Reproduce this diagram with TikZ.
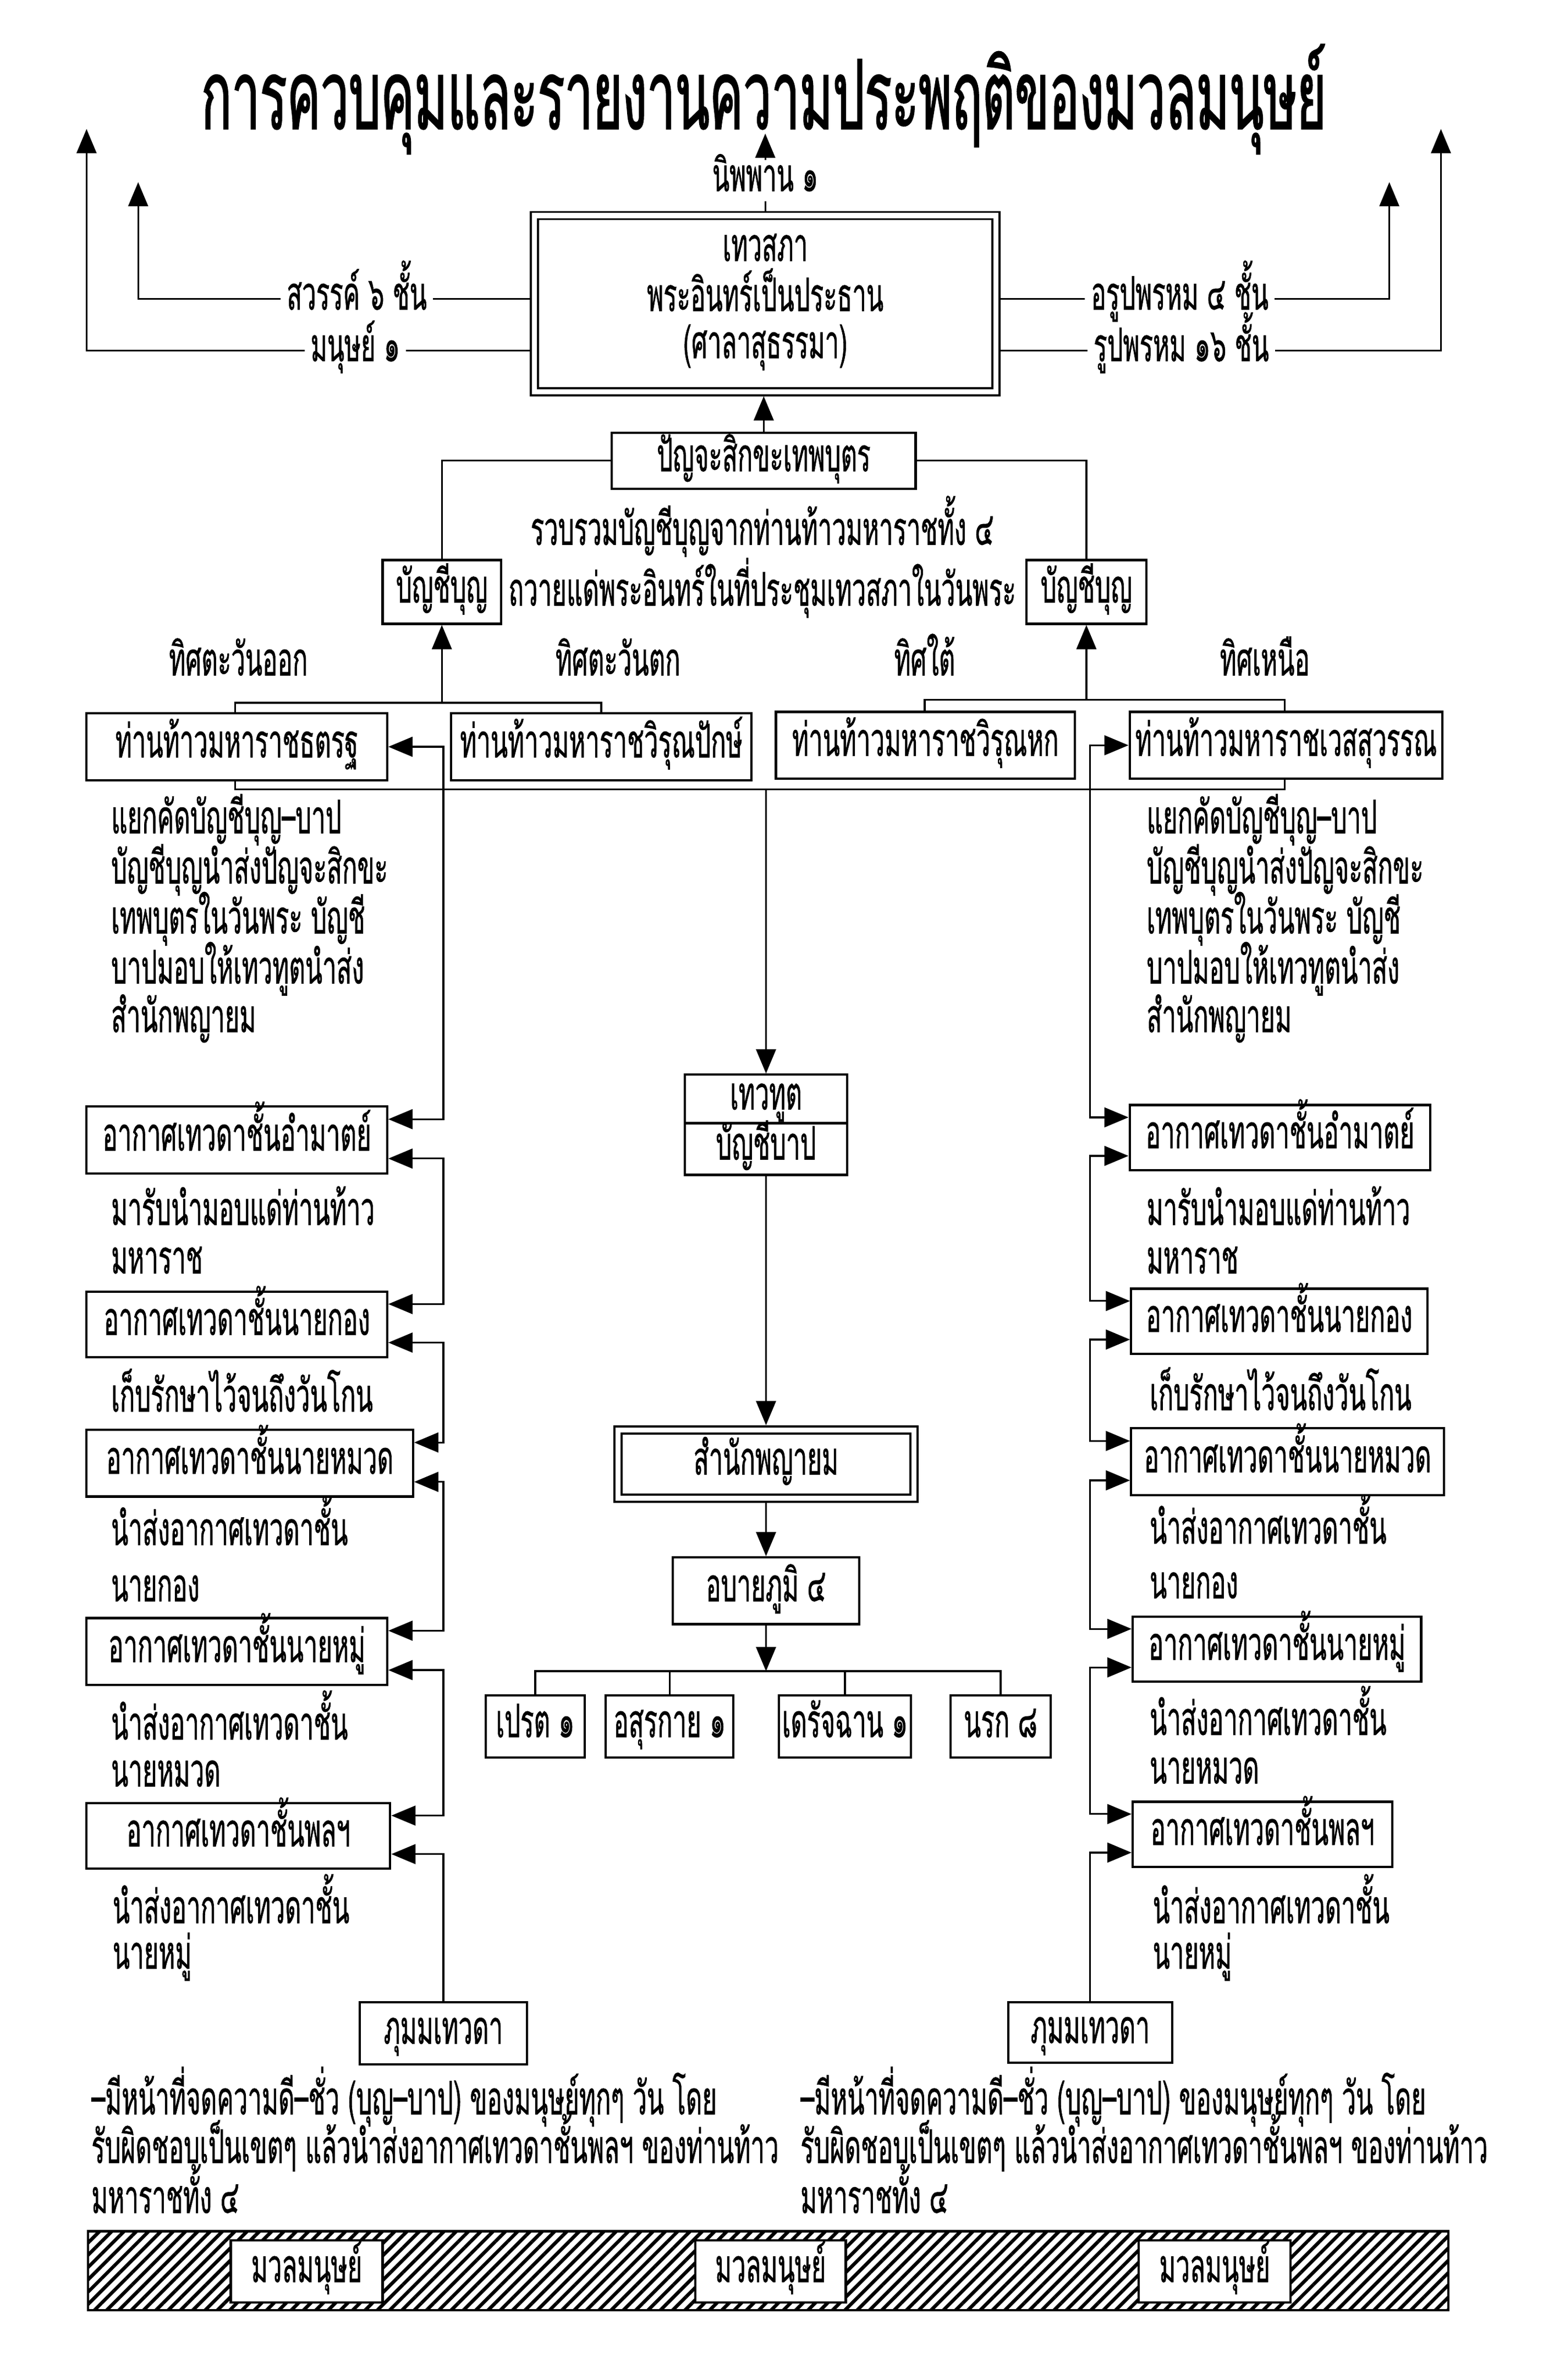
\documentclass[tikz,border=0pt]{standalone}
\usepackage{fontspec}
\newfontfamily\thai[Script=Thai,FakeStretch=0.54,FakeBold=0.7]{Loma}
\newfontfamily\thaitl[Script=Thai,FakeStretch=0.52,FakeBold=1.2]{Loma}
\usetikzlibrary{arrows.meta,calc,patterns.meta}
\tikzset{bigtri/.tip={Triangle[length=4.4mm,width=3.6mm]},
  at box/.style n args={4}{at={({(#1+#3)/2},{(#2+#4)/2})},minimum width={(#3-#1)*0.0276cm},minimum height={(#4-#2)*0.0276cm}}}
\begin{document}
\begin{tikzpicture}[x=0.0276cm,y=-0.0276cm,
  every node/.style={font=\thai\fontsize{24}{28}\selectfont},
  bx/.style={draw,line width=1.2pt,fill=white,inner sep=0pt,text height=11pt,text depth=0pt},
  dbx/.style={bx,line width=1.1pt,double,double distance=2.6pt,outer sep=2.4pt},
  lbl/.style={inner sep=3pt,text height=11pt,text depth=0pt},
  txt/.style={anchor=west,inner sep=0pt,text height=11pt,text depth=0pt},
  txc/.style={inner sep=0pt,text height=11pt,text depth=0pt},
  con/.style={line width=0.9pt},
  arr/.style={con,-bigtri},
  darr/.style={con,bigtri-bigtri}]
\fill[white] (0,0) rectangle (1016,1568);
\useasboundingbox (0,0) rectangle (1016,1568);

% title
\node[font=\thaitl\fontsize{50}{54}\selectfont,anchor=base,inner sep=0pt] (title) at (503,85) {การควบคุมและรายงานความประพฤติของมวลมนุษย์};

% top box
\node[dbx,at box={352}{142}{656}{258}] (topbox) {};
\node[txc] (tb1) at (504,165) {เทวสภา};
\node[txc] (tb2) at (504,198) {พระอินทร์เป็นประธาน};
\node[txc] (tb3) at (504,229) {(ศาลาสุธรรมา)};

% top labels and arrows
\node[lbl] (sv) at (235,197) {สวรรค์ ๖ ชั้น};
\node[lbl] (mn) at (234,231) {มนุษย์ ๑};
\node[lbl] (arp) at (777,197) {อรูปพรหม ๔ ชั้น};
\node[lbl] (rp) at (778,231) {รูปพรหม ๑๖ ชั้น};
\node[lbl,inner ysep=5pt] (nb) at (504,119) {นิพพาน ๑};
\coordinate (t1) at (91,120);
\coordinate (t2) at (57,85);
\coordinate (t3) at (915,120);
\coordinate (t4) at (949,85);
\coordinate (t5) at (504,88);
\draw[con] (topbox.west |- sv) -- (sv.east);
\draw[arr] (sv.west) -| (t1);
\draw[con] (topbox.west |- mn) -- (mn.east);
\draw[arr] (mn.west) -| (t2);
\draw[con] (topbox.east |- arp) -- (arp.west);
\draw[arr] (arp.east) -| (t3);
\draw[con] (topbox.east |- rp) -- (rp.west);
\draw[arr] (rp.east) -| (t4);
\draw[con] (topbox.north) -- (nb.south);
\draw[arr] (nb.north) -- (t5);

% panca
\node[bx,at box={403}{285}{603}{322}] (panca) {ปัญจะสิกขะเทพบุตร};
\draw[arr] (panca.north) -- (panca.north |- topbox.south);
\node[bx,at box={252}{369}{330}{411}] (bl) {บัญชีบุญ};
\node[bx,at box={676}{369}{755}{411}] (br) {บัญชีบุญ};
\draw[con] (panca.west) -| (bl.north);
\draw[con] (panca.east) -| (br.north);
\node[txc] (rv1) at (502,352) {รวบรวมบัญชีบุญจากท่านท้าวมหาราชทั้ง ๔};
\node[txc] (rv2) at (502,392) {ถวายแด่พระอินทร์ในที่ประชุมเทวสภาในวันพระ};

% directions
\node[txc] (dE) at (157,438) {ทิศตะวันออก};
\node[txc] (dW) at (407,438) {ทิศตะวันตก};
\node[txc] (dS) at (609,438) {ทิศใต้};
\node[txc] (dN) at (833,438) {ทิศเหนือ};

% four kings
\node[bx,at box={57}{470}{255}{514}] (dhat) {ท่านท้าวมหาราชธตรฐ};
\node[bx,at box={297}{470}{495}{514}] (virup) {ท่านท้าวมหาราชวิรุณปักษ์};
\node[bx,at box={511}{469}{708}{513}] (viru) {ท่านท้าวมหาราชวิรุณหก};
\node[bx,at box={744}{469}{950}{513}] (vess) {ท่านท้าวมหาราชเวสสุวรรณ};
\coordinate (bk1) at (155,463);
\coordinate (bk2) at (396,463);
\coordinate (bk3) at (609,461);
\coordinate (bk4) at (846,461);
\draw[con] (dhat.north -| bk1) |- (bk2) -- (virup.north -| bk2);
\draw[arr] (bl.south |- bk1) -- (bl.south);
\draw[con] (viru.north -| bk3) |- (bk4) -- (vess.north -| bk4);
\draw[arr] (br.south |- bk3) -- (br.south);
\coordinate (bb1) at (155,520);
\coordinate (bb2) at (846,520);
\draw[con] (dhat.south -| bb1) |- (bb2) -- (vess.south -| bb2);

% centre column
\node[bx,at box={451}{708}{558}{740}] (devA) {เทวทูต};
\node[bx,at box={451}{740}{558}{774}] (devB) {บัญชีบาป};
\draw[arr] (bb1 -| devA.north) -- (devA.north);
\node[dbx,at box={407}{942}{602}{987}] (yama) {สำนักพญายม};
\draw[arr] (devB.south) -- (yama.north);
\node[bx,at box={443}{1026}{566}{1070}] (abaya) {อบายภูมิ ๔};
\draw[arr] (yama.south) -- (abaya.north);
\coordinate (bar) at (504.5,1101);
\draw[arr] (abaya.south) -- (abaya.south |- bar);
\node[bx,at box={320}{1117}{385}{1158}] (pret) {เปรต ๑};
\node[bx,at box={399}{1117}{483}{1158}] (asura) {อสุรกาย ๑};
\node[bx,at box={513}{1117}{600}{1158}] (tirat) {เดรัจฉาน ๑};
\node[bx,at box={626}{1117}{692}{1158}] (naraka) {นรก ๘};
\draw[con] (pret.north) -- (pret.north |- bar) -- (naraka.north |- bar) -- (naraka.north);
\draw[con] (asura.north) -- (asura.north |- bar);
\draw[con] (tirat.north) -- (tirat.north |- bar);

% descriptive text
\node[txt] (la1) at (73,542) {แยกคัดบัญชีบุญ–บาป};
\node[txt] (la2) at (73,575) {บัญชีบุญนำส่งปัญจะสิกขะ};
\node[txt] (la3) at (73,608) {เทพบุตรในวันพระ บัญชี};
\node[txt] (la4) at (73,641) {บาปมอบให้เทวทูตนำส่ง};
\node[txt] (la5) at (73,673) {สำนักพญายม};
\node[txt] (ra1) at (755,542) {แยกคัดบัญชีบุญ–บาป};
\node[txt] (ra2) at (755,575) {บัญชีบุญนำส่งปัญจะสิกขะ};
\node[txt] (ra3) at (755,608) {เทพบุตรในวันพระ บัญชี};
\node[txt] (ra4) at (755,641) {บาปมอบให้เทวทูตนำส่ง};
\node[txt] (ra5) at (755,673) {สำนักพญายม};

% left column
\node[bx,at box={57}{729}{255}{773}] (amatL) {อากาศเทวดาชั้นอำมาตย์};
\node[txt] (lb1) at (73,800) {มารับนำมอบแด่ท่านท้าว};
\node[txt] (lb2) at (73,832) {มหาราช};
\node[bx,at box={57}{851}{255}{894}] (kongL) {อากาศเทวดาชั้นนายกอง};
\node[txt] (lc1) at (73,923) {เก็บรักษาไว้จนถึงวันโกน};
\node[bx,at box={57}{942}{272}{986}] (muadL) {อากาศเทวดาชั้นนายหมวด};
\node[txt] (ld1) at (73,1011) {นำส่งอากาศเทวดาชั้น};
\node[txt] (ld2) at (73,1048) {นายกอง};
\node[bx,at box={57}{1066}{255}{1110}] (muL) {อากาศเทวดาชั้นนายหมู่};
\node[txt] (le1) at (73,1139) {นำส่งอากาศเทวดาชั้น};
\node[txt] (le2) at (73,1170) {นายหมวด};
\node[bx,at box={57}{1188}{257}{1231}] (phonL) {อากาศเทวดาชั้นพลฯ};
\node[txt] (lf1) at (74,1260) {นำส่งอากาศเทวดาชั้น};
\node[txt] (lf2) at (74,1290) {นายหมู่};
\node[bx,at box={237}{1319}{347}{1360}] (bhumL) {ภุมมเทวดา};

\draw[darr] (dhat.east) -| (292,600) |- ($(amatL.north east)!0.2!(amatL.south east)$);
\draw[darr] ($(amatL.north east)!0.77!(amatL.south east)$) -| (292,800) |- ($(kongL.north east)!0.2!(kongL.south east)$);
\draw[darr] ($(kongL.north east)!0.77!(kongL.south east)$) -| (292,920) |- ($(muadL.north east)!0.2!(muadL.south east)$);
\draw[darr] ($(muadL.north east)!0.77!(muadL.south east)$) -| (292,1030) |- ($(muL.north east)!0.2!(muL.south east)$);
\draw[darr] ($(muL.north east)!0.77!(muL.south east)$) -| (292,1150) |- ($(phonL.north east)!0.2!(phonL.south east)$);
\draw[arr] (bhumL.north) |- ($(phonL.north east)!0.77!(phonL.south east)$);

% right column
\node[bx,at box={744}{728}{942}{771}] (amatR) {อากาศเทวดาชั้นอำมาตย์};
\node[txt] (rb1) at (755,800) {มารับนำมอบแด่ท่านท้าว};
\node[txt] (rb2) at (755,832) {มหาราช};
\node[bx,at box={745}{849}{940}{892}] (kongR) {อากาศเทวดาชั้นนายกอง};
\node[txt] (rc1) at (757,922) {เก็บรักษาไว้จนถึงวันโกน};
\node[bx,at box={745}{941}{951}{985}] (muadR) {อากาศเทวดาชั้นนายหมวด};
\node[txt] (rd1) at (757,1010) {นำส่งอากาศเทวดาชั้น};
\node[txt] (rd2) at (757,1046) {นายกอง};
\node[bx,at box={746}{1065}{936}{1108}] (muR) {อากาศเทวดาชั้นนายหมู่};
\node[txt] (re1) at (757,1136) {นำส่งอากาศเทวดาชั้น};
\node[txt] (re2) at (757,1168) {นายหมวด};
\node[bx,at box={746}{1187}{917}{1230}] (phonR) {อากาศเทวดาชั้นพลฯ};
\node[txt] (rf1) at (759,1260) {นำส่งอากาศเทวดาชั้น};
\node[txt] (rf2) at (759,1290) {นายหมู่};
\node[bx,at box={664}{1319}{772}{1359}] (bhumR) {ภุมมเทวดา};

\draw[darr] (vess.west) -| (718,600) |- ($(amatR.north west)!0.2!(amatR.south west)$);
\draw[darr] ($(amatR.north west)!0.77!(amatR.south west)$) -| (718,800) |- ($(kongR.north west)!0.2!(kongR.south west)$);
\draw[darr] ($(kongR.north west)!0.77!(kongR.south west)$) -| (718,920) |- ($(muadR.north west)!0.2!(muadR.south west)$);
\draw[darr] ($(muadR.north west)!0.77!(muadR.south west)$) -| (718,1030) |- ($(muR.north west)!0.2!(muR.south west)$);
\draw[darr] ($(muR.north west)!0.77!(muR.south west)$) -| (718,1150) |- ($(phonR.north west)!0.2!(phonR.south west)$);
\draw[arr] (bhumR.north) |- ($(phonR.north west)!0.77!(phonR.south west)$);

% bottom paragraphs
\node[txt] (lg1) at (60,1386) {–มีหน้าที่จดความดี–ชั่ว (บุญ–บาป) ของมนุษย์ทุกๆ วัน โดย};
\node[txt] (lg2) at (60,1418) {รับผิดชอบเป็นเขตๆ แล้วนำส่งอากาศเทวดาชั้นพลฯ ของท่านท้าว};
\node[txt] (lg3) at (60,1451) {มหาราชทั้ง ๔};
\node[txt] (rg1) at (527,1386) {–มีหน้าที่จดความดี–ชั่ว (บุญ–บาป) ของมนุษย์ทุกๆ วัน โดย};
\node[txt] (rg2) at (527,1418) {รับผิดชอบเป็นเขตๆ แล้วนำส่งอากาศเทวดาชั้นพลฯ ของท่านท้าว};
\node[txt] (rg3) at (527,1451) {มหาราชทั้ง ๔};

% hatched band
\node[draw,line width=1.2pt,inner sep=0pt,pattern={Lines[angle=45,distance=4.5pt,line width=1.8pt]},at box={58}{1470}{954}{1522}] (band) {};
\node[bx,at box={152}{1476}{252}{1517}] (m1) {มวลมนุษย์};
\node[bx,at box={458}{1476}{557}{1517}] (m2) {มวลมนุษย์};
\node[bx,at box={750}{1476}{850}{1517}] (m3) {มวลมนุษย์};
\end{tikzpicture}
\end{document}
